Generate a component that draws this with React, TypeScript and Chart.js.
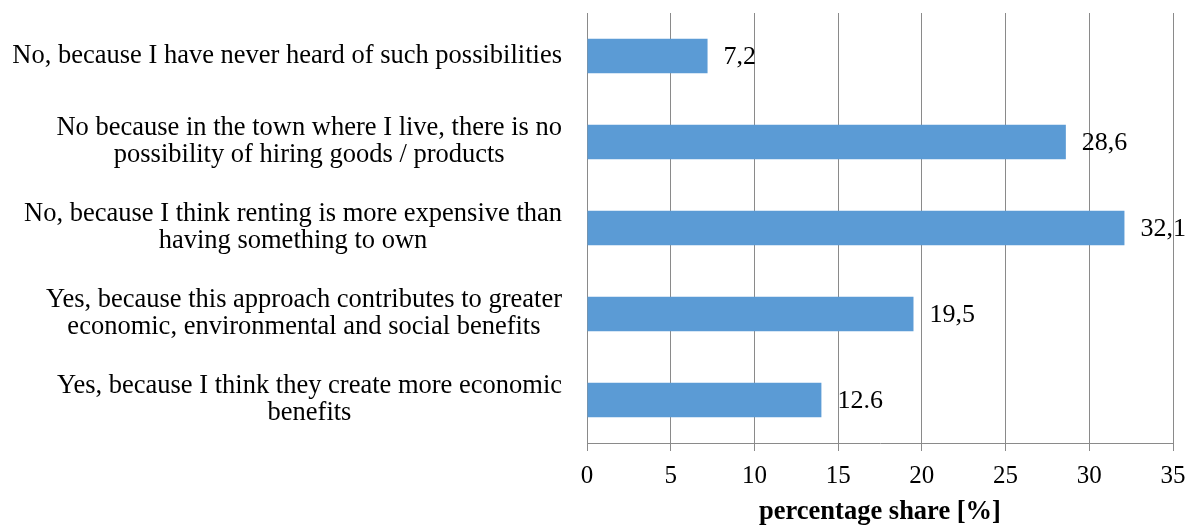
import React, { useEffect, useRef } from "react";
import { Chart, registerables } from "chart.js";

Chart.register(...registerables);

const categoryLines: string[][] = [
  ["No, because I have never heard of such possibilities"],
  ["No because in the town where I live, there is no", "possibility of hiring goods / products"],
  ["No, because I think renting is more expensive than", "having something to own"],
  ["Yes, because this approach contributes to greater", "economic, environmental and social benefits"],
  ["Yes, because I think they create more economic", "benefits"],
];
const values: number[] = [7.2, 28.6, 32.1, 19.5, 14.0];
const valueLabels: string[] = ["7,2", "28,6", "32,1", "19,5", "12.6"];
const xMin = 0;
const xMax = 35;
const xStep = 5;
const axisTitle = "percentage share [%]";

const FONT_FAMILY = '"Liberation Serif", "Times New Roman", serif';
const BAR_COLOR = "#5B9BD5";
const GRID_COLOR = "#8a8a8a";

const yLabelPlugin = {
  id: "yLabelPlugin",
  afterDraw(chart: any) {
    const ctx = chart.ctx;
    const yScale = chart.scales.y;
    ctx.save();
    ctx.font = `26.5px ${FONT_FAMILY}`;
    ctx.fillStyle = "#000";
    ctx.textAlign = "center";
    ctx.textBaseline = "middle";
    const right = chart.chartArea.left - 25;
    const lineH = 27;
    categoryLines.forEach((lines, i) => {
      const maxW = Math.max(...lines.map((l) => ctx.measureText(l).width));
      const cx = right - maxW / 2;
      const yc = yScale.getPixelForValue(i);
      const startY = yc - ((lines.length - 1) * lineH) / 2;
      lines.forEach((l, j) => ctx.fillText(l, cx, startY + j * lineH));
    });
    ctx.restore();
  },
};

const valueLabelPlugin = {
  id: "valueLabelPlugin",
  afterDatasetsDraw(chart: any) {
    const ctx = chart.ctx;
    const meta = chart.getDatasetMeta(0);
    ctx.save();
    ctx.font = `26px ${FONT_FAMILY}`;
    ctx.fillStyle = "#000";
    ctx.textAlign = "left";
    ctx.textBaseline = "middle";
    meta.data.forEach((el: any, i: number) => {
      ctx.fillText(valueLabels[i], el.x + 16, el.y + 1);
    });
    ctx.restore();
  },
};

export default function App() {
  const canvasRef = useRef<HTMLCanvasElement | null>(null);

  useEffect(() => {
    if (!canvasRef.current) return;
    const chart = new Chart(canvasRef.current, {
      type: "bar",
      data: {
        labels: categoryLines.map((l) => l.join(" ")),
        datasets: [
          {
            data: values,
            backgroundColor: BAR_COLOR,
            borderWidth: 0,
            barPercentage: 0.4,
            categoryPercentage: 1.0,
          },
        ],
      },
      options: {
        indexAxis: "y",
        responsive: false,
        animation: false,
        layout: { padding: { top: 13, right: 22, bottom: 1, left: 0 } },
        plugins: {
          legend: { display: false },
          tooltip: { enabled: false },
          title: { display: false },
        },
        scales: {
          x: {
            type: "linear",
            min: xMin,
            max: xMax,
            ticks: {
              stepSize: xStep,
              color: "#000",
              font: { family: FONT_FAMILY, size: 25, lineHeight: 1.0 },
              padding: 12.5,
              maxRotation: 0,
            },
            grid: {
              color: GRID_COLOR,
              lineWidth: 1,
              tickLength: 8,
              drawTicks: true,
            },
            border: { display: true, color: GRID_COLOR, width: 1 },
            title: {
              display: true,
              text: axisTitle,
              color: "#000",
              font: { family: FONT_FAMILY, size: 26.5, weight: "bold", lineHeight: 1.0 },
              padding: { top: 12, bottom: 0 },
            },
            afterFit: (scale: any) => {
              scale.height = 82;
              scale.paddingRight = 0;
              scale.paddingLeft = 0;
            },
          },
          y: {
            type: "category",
            ticks: { display: false },
            grid: { display: false },
            border: { display: true, color: GRID_COLOR, width: 1 },
            afterFit: (scale: any) => {
              scale.width = 587;
            },
          },
        },
      },
      plugins: [yLabelPlugin, valueLabelPlugin],
    } as any);
    return () => chart.destroy();
  }, []);

  return (
    <div style={{ position: "fixed", left: 0, top: 0, width: 1195, height: 526, background: "#fff" }}>
      <canvas ref={canvasRef} width={1195} height={526} style={{ display: "block" }} />
    </div>
  );
}
